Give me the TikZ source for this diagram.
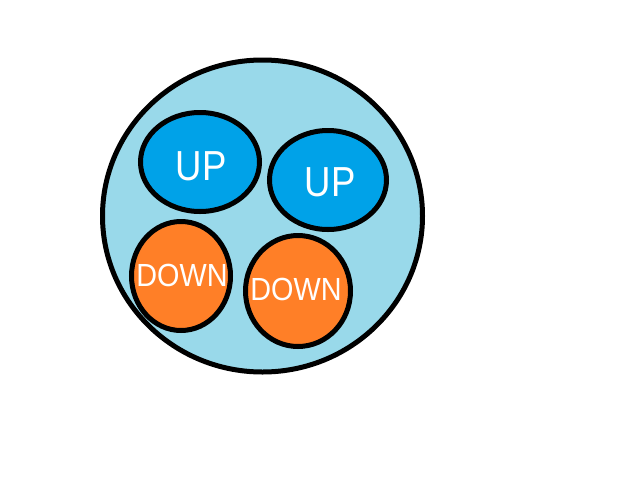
\documentclass[tikz,border=0pt]{standalone}
\usepackage{fontspec}
\setmainfont{Liberation Sans}
\definecolor{lightbg}{HTML}{99D9EA}
\definecolor{upblue}{HTML}{00A2E8}
\definecolor{downorange}{HTML}{FF7F27}
\tikzset{
  blob/.style={draw=black, line width=5pt},
  lbl/.style={text=white, inner sep=0pt, anchor=center}
}
\begin{document}
\begin{tikzpicture}[x=1pt,y=-1pt]
\useasboundingbox[fill=white] (0,0) rectangle (640,480);
\coordinate (c) at (262.5,216);
\draw[blob, fill=lightbg] (c) ellipse [x radius=160, y radius=156];
\coordinate (u1) at (200,162);
\coordinate (u2) at (328,180);
\coordinate (d1) at (181,276);
\coordinate (d2) at (298,291);
\draw[blob, fill=upblue] (u1) ellipse [x radius=59.5, y radius=49.5];
\draw[blob, fill=upblue] (u2) ellipse [x radius=58.5, y radius=49.5];
\draw[blob, fill=downorange] (d1) ellipse [x radius=49.5, y radius=54.5];
\draw[blob, fill=downorange] (d2) ellipse [x radius=52.5, y radius=55.5];
\node[lbl, font=\fontsize{42}{42}\selectfont] (t1) at (201,166) {\scalebox{0.87}[1]{UP}};
\node[lbl, font=\fontsize{42}{42}\selectfont] (t2) at (330,182) {\scalebox{0.87}[1]{UP}};
\node[lbl, font=\fontsize{32}{32}\selectfont] (t3) at (182,275.5) {\scalebox{0.9}[1]{DOWN}};
\node[lbl, font=\fontsize{32}{32}\selectfont] (t4) at (296,289) {\scalebox{0.9}[1]{DOWN}};
\end{tikzpicture}
\end{document}
